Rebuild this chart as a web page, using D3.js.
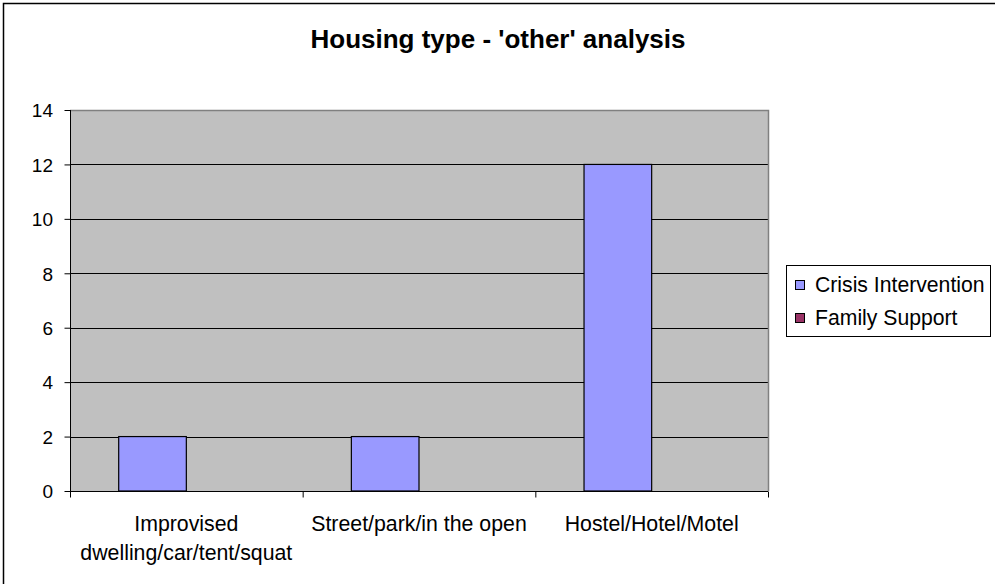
<!DOCTYPE html>
<html><head><meta charset="utf-8">
<script src="https://cdn.jsdelivr.net/npm/d3@7"></script>
<style>body{margin:0;background:#fff}svg{display:block}text{font-family:Arial,"Liberation Sans",sans-serif;fill:#000}</style>
</head><body>
<svg id="c" width="995" height="584"></svg>
<script>
const categories = [["Improvised","dwelling/car/tent/squat"],["Street/park/in the open"],["Hostel/Hotel/Motel"]];
const seriesNames = ["Crisis Intervention","Family Support"];
const crisisValues = [2, 2, 12];
const familyValues = [0, 0, 0];
const yTicks = [0,2,4,6,8,10,12,14];
const colors = ["#9999FF","#993366"];
const title = "Housing type - 'other' analysis";

const svg = d3.select("#c");
svg.append("rect").attr("x",3.5).attr("y",3.5).attr("width",1000).attr("height",1000).attr("fill","#fff").attr("stroke","#000").attr("stroke-width",1.5);

const L=70,R=768,T=110,B=491;
const x0 = d3.scaleBand().domain(d3.range(categories.length)).range([L,R]).paddingInner(0).paddingOuter(0);
const inner = d3.scaleBand().domain(seriesNames).range([0,x0.bandwidth()]).paddingInner(0).paddingOuter(0.72);
const y = d3.scaleLinear().domain([0,14]).range([B,T]);

svg.append("rect").attr("x",L).attr("y",T).attr("width",R-L).attr("height",B-T).attr("fill","#C0C0C0");
// gridlines
svg.append("g").selectAll("line").data(yTicks.filter(d=>d>0&&d<14)).join("line")
  .attr("x1",L).attr("x2",R).attr("y1",d=>Math.round(y(d))+0.5).attr("y2",d=>Math.round(y(d))+0.5).attr("stroke","#000");
// top/right border gray
svg.append("path").attr("d",`M${L},${T+0.5}H${R+0.5}V${B}`).attr("fill","none").attr("stroke","#808080").attr("stroke-width",1.5);

const data = [crisisValues, familyValues];
const g = svg.append("g");
categories.forEach((c,i)=>{
  seriesNames.forEach((s,j)=>{
    const v = data[j][i];
    g.append("rect").attr("x",x0(i)+inner(s)).attr("y",y(v)).attr("width",inner.bandwidth()).attr("height",y(0)-y(v))
      .attr("fill",colors[j]).attr("stroke","#000").attr("stroke-width",1.2);
  });
});

// y axis
const ya = d3.axisLeft(y).tickValues(yTicks).tickSize(6).tickPadding(11.5).tickFormat(d3.format("d"));
const yg = svg.append("g").attr("transform",`translate(${L+0.5},0)`).call(ya);
yg.select(".domain").attr("stroke","#000").attr("d",`M0,${T}V${B}`);
yg.selectAll(".tick line").attr("stroke","#000");
yg.selectAll(".tick text").attr("font-size","19px").attr("font-family","Arial,'Liberation Sans',sans-serif").attr("dy","0.36em");

// x axis
const xa = d3.axisBottom(d3.scaleLinear().domain([0,3]).range([L,R])).tickValues([0,1,2,3]).tickSize(6).tickFormat("");
const xg = svg.append("g").attr("transform",`translate(0,${B+0.5})`).call(xa);
xg.select(".domain").attr("stroke","#000").attr("d",`M${L},0H${R}`);
xg.selectAll(".tick line").attr("stroke","#000");

categories.forEach((c,i)=>{
  const t = svg.append("text").attr("x",x0(i)+x0.bandwidth()/2).attr("y",531).attr("text-anchor","middle").attr("font-size","21.3px");
  c.forEach((line,k)=>t.append("tspan").attr("x",x0(i)+x0.bandwidth()/2).attr("dy",k?28.5:0).text(line));
});

svg.append("text").attr("x",498).attr("y",48).attr("text-anchor","middle").attr("font-size","26px").attr("font-weight","bold").text(title);

// legend
const lg = svg.append("g");
lg.append("rect").attr("x",786.5).attr("y",265.5).attr("width",204).attr("height",71).attr("fill","#fff").attr("stroke","#000");
seriesNames.forEach((s,j)=>{
  lg.append("rect").attr("x",795.5).attr("y",280.5+j*33).attr("width",9).attr("height",9).attr("fill",colors[j]).attr("stroke","#000");
  lg.append("text").attr("x",815).attr("y",292+j*33).attr("font-size","21.2px").text(s);
});
</script>
</body></html>
